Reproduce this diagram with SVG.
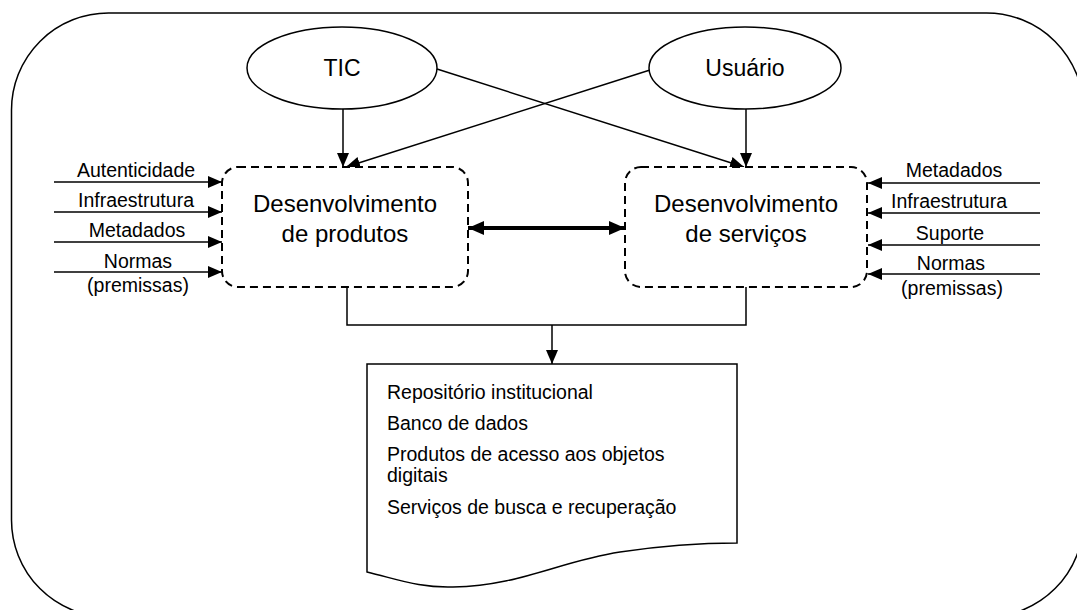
<svg xmlns="http://www.w3.org/2000/svg" width="1077" height="610" viewBox="0 0 1077 610">
<style>
  .t { font-family: "Liberation Sans", Arial, sans-serif; fill: #000; }
  .big { font-size: 24px; text-anchor: middle; }
  .ell { font-size: 23px; text-anchor: middle; }
  .lab { font-size: 19.5px; text-anchor: middle; }
  .doc { font-size: 19.5px; }
  .ln { stroke: #000; stroke-width: 1.5; fill: none; }
  .dash { stroke: #000; stroke-width: 2; fill: #fff; stroke-dasharray: 8 5; }
  .shape { stroke: #000; stroke-width: 1.5; fill: #fff; }
</style>
<defs>
  <marker id="ah" viewBox="0 0 14 12" refX="14" refY="6" markerWidth="14" markerHeight="12" markerUnits="userSpaceOnUse" orient="auto">
    <path d="M0,0 L14,6 L0,12 z" fill="#000"/>
  </marker>
  <marker id="ahb" viewBox="0 0 16 14" refX="16" refY="7" markerWidth="16" markerHeight="14" markerUnits="userSpaceOnUse" orient="auto-start-reverse">
    <path d="M0,0 L16,7 L0,14 z" fill="#000"/>
  </marker>
</defs>
<rect width="1077" height="610" fill="#fff"/>
<g id="frame">
  <rect x="11.5" y="13" width="1072" height="604" rx="97" ry="97" fill="none" stroke="#000" stroke-width="1.5"/>
</g>
<g id="connectors">
  <line class="ln" x1="343" y1="109" x2="343" y2="167" marker-end="url(#ah)"/>
  <line class="ln" x1="746" y1="109" x2="746" y2="167" marker-end="url(#ah)"/>
  <line class="ln" x1="437" y1="69" x2="744" y2="167" marker-end="url(#ah)"/>
  <line class="ln" x1="650" y1="70" x2="346" y2="167" marker-end="url(#ah)"/>
  <line class="ln" x1="54" y1="182" x2="222" y2="182" marker-end="url(#ah)"/>
  <line class="ln" x1="54" y1="212" x2="222" y2="212" marker-end="url(#ah)"/>
  <line class="ln" x1="54" y1="242" x2="222" y2="242" marker-end="url(#ah)"/>
  <line class="ln" x1="54" y1="272" x2="222" y2="272" marker-end="url(#ah)"/>
  <line class="ln" x1="1040" y1="183" x2="868" y2="183" marker-end="url(#ah)"/>
  <line class="ln" x1="1040" y1="213" x2="868" y2="213" marker-end="url(#ah)"/>
  <line class="ln" x1="1040" y1="245" x2="868" y2="245" marker-end="url(#ah)"/>
  <line class="ln" x1="1040" y1="274" x2="868" y2="274" marker-end="url(#ah)"/>
  <line x1="468" y1="228" x2="625" y2="228" stroke="#000" stroke-width="4" marker-start="url(#ahb)" marker-end="url(#ahb)"/>
  <polyline class="ln" points="347,287 347,325 746,325 746,287"/>
  <line class="ln" x1="552" y1="325" x2="552" y2="364" marker-end="url(#ah)"/>
</g>
<g id="labels-left" class="t lab">
  <text x="136" y="177">Autenticidade</text>
  <text x="136" y="207">Infraestrutura</text>
  <text x="137" y="237">Metadados</text>
  <text x="138" y="268">Normas</text>
  <text x="138" y="292">(premissas)</text>
</g>
<g id="labels-right" class="t lab">
  <text x="954" y="177">Metadados</text>
  <text x="949" y="208">Infraestrutura</text>
  <text x="950" y="240">Suporte</text>
  <text x="951" y="270">Normas</text>
  <text x="952" y="295">(premissas)</text>
</g>
<g id="tic">
  <ellipse class="shape" cx="342" cy="68" rx="95" ry="41"/>
  <text class="t ell" x="342" y="76">TIC</text>
</g>
<g id="usuario">
  <ellipse class="shape" cx="745" cy="68" rx="96" ry="41"/>
  <text class="t ell" x="745" y="76">Usuário</text>
</g>
<g id="produtos">
  <rect class="dash" x="222" y="167" width="246" height="120" rx="16" ry="16"/>
  <text class="t big" x="345" y="212">Desenvolvimento</text>
  <text class="t big" x="345" y="242">de produtos</text>
</g>
<g id="servicos">
  <rect class="dash" x="625" y="167" width="242" height="120" rx="16" ry="16"/>
  <text class="t big" x="746" y="212">Desenvolvimento</text>
  <text class="t big" x="746" y="242">de serviços</text>
</g>
<g id="documento">
  <path class="shape" d="M367,364 L737,364 L737,543 C700,543 660,546 620,552 C560,561 520,586 453,587 C420,588 400,580 367,572 Z"/>
  <text class="t doc" x="387" y="399">Repositório institucional</text>
  <text class="t doc" x="387" y="430">Banco de dados</text>
  <text class="t doc" x="387" y="461">Produtos de acesso aos objetos</text>
  <text class="t doc" x="387" y="482">digitais</text>
  <text class="t doc" x="387" y="514">Serviços de busca e recuperação</text>
</g>
</svg>
